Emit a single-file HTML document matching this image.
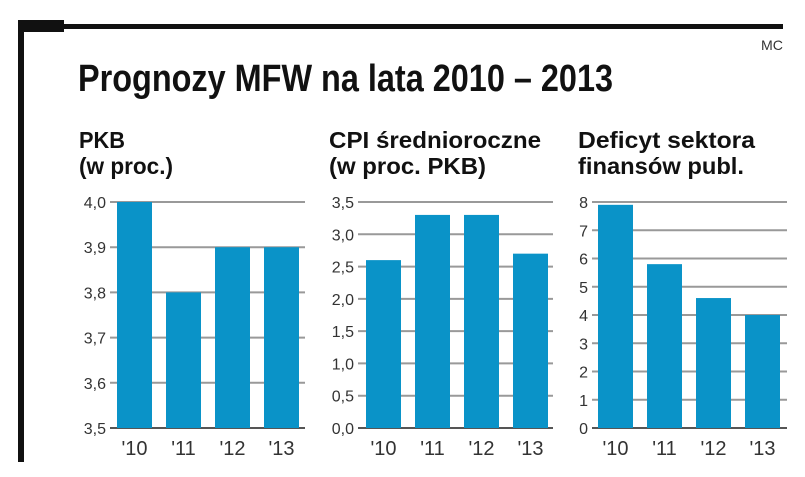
<!DOCTYPE html>
<html><head><meta charset="utf-8"><style>
body{margin:0;background:#fff;width:805px;height:477px;overflow:hidden}
svg{display:block}
.t{font-family:"Liberation Sans Narrow","Liberation Sans",sans-serif;font-weight:bold;fill:#111}
.ax{font-family:"Liberation Sans",sans-serif;fill:#333}
</style></head><body>
<svg id="c" width="805" height="477">
<rect x="18" y="22" width="6" height="440" fill="#111"/>
<rect x="18" y="20" width="46" height="12" fill="#111"/>
<rect x="18" y="24" width="765" height="5" fill="#111"/>
<text x="783" y="50" text-anchor="end" class="ax" font-size="14" textLength="22" lengthAdjust="spacingAndGlyphs">MC</text>
<text x="78" y="91" class="t" font-size="38" textLength="535" lengthAdjust="spacingAndGlyphs">Prognozy MFW na lata 2010 – 2013</text>
</svg>
<script>
const categories=["'10","'11","'12","'13"];
const pkbValues=[4.0,3.8,3.9,3.9];
const cpiValues=[2.6,3.3,3.3,2.7];
const defValues=[7.9,5.8,4.6,4.0];
const pkbTicks=["3,5","3,6","3,7","3,8","3,9","4,0"];
const cpiTicks=["0,0","0,5","1,0","1,5","2,0","2,5","3,0","3,5"];
const defTicks=["0","1","2","3","4","5","6","7","8"];
const NS="http://www.w3.org/2000/svg";
const svg=document.getElementById('c');
function mk(t,a){const e=document.createElementNS(NS,t);for(const k in a)e.setAttribute(k,a[k]);svg.appendChild(e);return e;}
const panels=[
 {id:'pkb',vals:pkbValues,ticks:pkbTicks,min:3.5,max:4.0,gx0:110,gx1:305,bx:117,title:["PKB","(w proc.)"],tl:[46,94],tx:79},
 {id:'cpi',vals:cpiValues,ticks:cpiTicks,min:0,max:3.5,gx0:358,gx1:553,bx:366,title:["CPI średnioroczne","(w proc. PKB)"],tl:[212,157],tx:329},
 {id:'deficit',vals:defValues,ticks:defTicks,min:0,max:8,gx0:592,gx1:787,bx:598,title:["Deficyt sektora","finansów publ."],tl:[177,166],tx:578}
];
const yTop=202,yBot=428,step=49,bw=35;
panels.forEach(p=>{
 const y=v=>yBot-(v-p.min)/(p.max-p.min)*(yBot-yTop);
 p.title.forEach((s,i)=>{const t=mk('text',{x:p.tx,y:148+i*26,class:'t','font-size':23,textLength:p.tl[i],lengthAdjust:'spacingAndGlyphs'});t.textContent=s;
  
  });
 p.ticks.forEach(lbl=>{const v=parseFloat(lbl.replace(',','.'));const yy=y(v);
  const l=mk('line',{x1:p.gx0,x2:p.gx1,y1:yy,y2:yy,stroke:v===p.min?'#555':'#999','stroke-width':2});
  
  
  const t=mk('text',{x:p.gx0-4,y:yy+6,'text-anchor':'end',class:'ax','font-size':16});t.textContent=lbl;
  
  });
 p.vals.forEach((v,i)=>{const x=p.bx+i*step;
  const r=mk('rect',{x:x,y:y(v),width:bw,height:yBot-y(v),fill:'#0a93c8'});
  
  
  const t=mk('text',{x:x+bw/2,y:455,'text-anchor':'middle',class:'ax','font-size':20});t.textContent=categories[i];
  
  });
});
</script>
</body></html>
